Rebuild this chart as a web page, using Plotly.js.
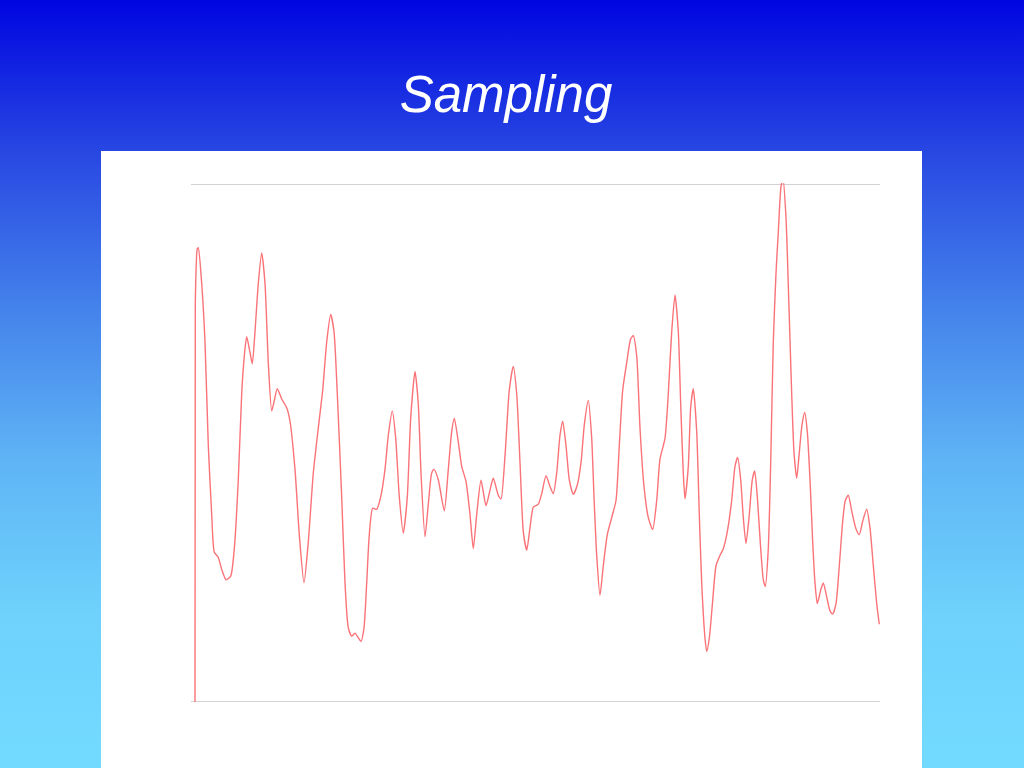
<!DOCTYPE html>
<html>
<head>
<meta charset="utf-8">
<script src="https://cdn.plot.ly/plotly-3.0.1.min.js"></script>
<style>
  html, body { margin: 0; padding: 0; }
  body {
    width: 1024px; height: 768px; overflow: hidden; position: relative;
    background: linear-gradient(to bottom,
      rgb(0,5,225) 0%,
      rgb(40,72,226) 20%,
      rgb(68,130,235) 40%,
      rgb(95,180,245) 60%,
      rgb(110,210,252) 80%,
      rgb(115,218,255) 100%);
  }
  #panel { position: absolute; left: 101px; top: 151px; width: 821px; height: 617px; background: #ffffff; }
  #chart { position: absolute; left: 0; top: 0; width: 1024px; height: 768px; }
</style>
</head>
<body>
<div id="panel"></div>
<div id="chart"></div>
<script>
// sample time (arbitrary units) and signal amplitude (0..100)
const sampleTime = [
  4.0, 4.3, 6.3, 7.3, 10.7, 14.0, 17.3, 20.7, 23.3, 27.3, 30.7, 35.0, 39.7, 43.3, 47.3, 50.7, 53.3, 55.7,
  59.0, 61.3, 64.0, 67.3, 70.7, 74.0, 77.3, 80.7, 83.3, 86.3, 90.7, 95.7, 99.0, 104.0, 108.3, 113.0,
  117.3, 122.3, 127.3, 131.7, 135.7, 139.7, 143.0, 146.3, 150.7, 154.0, 157.3, 160.7, 164.0, 170.0,
  173.0, 175.7, 178.3, 181.7, 185.7, 189.7, 194.0, 197.3, 201.3, 204.7, 208.3, 212.3, 216.3, 219.7,
  224.0, 227.3, 230.0, 234.0, 237.3, 240.7, 243.0, 247.3, 253.3, 257.3, 260.7, 263.3, 267.3, 270.7,
  275.0, 279.0, 282.3, 285.7, 290.0, 295.0, 299.0, 302.3, 307.3, 310.0, 314.0, 318.3, 322.3, 325.7,
  329.0, 332.3, 335.7, 339.0, 342.3, 347.3, 350.7, 355.0, 359.0, 362.3, 365.7, 369.0, 371.7, 375.0,
  378.3, 382.3, 386.3, 390.0, 393.3, 397.3, 400.7, 403.0, 405.7, 409.0, 412.3, 416.3, 420.7, 425.0,
  428.3, 431.7, 435.7, 439.7, 442.3, 445.7, 449.0, 453.0, 457.3, 461.7, 465.7, 469.0, 474.0, 477.3,
  480.7, 484.0, 487.3, 489.7, 492.3, 494.0, 497.3, 499.7, 502.3, 505.7, 508.3, 510.7, 514.0, 515.7,
  518.3, 521.7, 525.0, 529.0, 532.3, 536.3, 540.7, 544.0, 546.7, 549.7, 552.3, 555.0, 558.3, 561.3,
  563.7, 566.3, 569.7, 572.3, 574.3, 577.3, 579.7, 582.3, 585.0, 587.3, 590.0, 592.0, 595.0, 598.0,
  600.7, 603.0, 605.7, 608.3, 611.0, 613.7, 616.3, 619.0, 621.7, 624.0, 626.3, 629.7, 632.3, 635.7,
  639.0, 641.7, 645.0, 648.3, 651.7, 654.3, 657.3, 660.7, 664.7, 668.3, 671.7, 675.7, 679.0, 682.3,
  685.7, 688.3
];
const signal = [
  0.0, 77.0, 87.5, 87.7, 80.8, 69.5, 49.5, 36.2, 28.9, 27.9, 25.6, 23.6, 24.3, 29.6, 42.9, 59.5, 66.8, 70.5,
  67.5, 65.3, 71.5, 80.8, 86.7, 80.8, 65.5, 56.2, 58.2, 60.5, 58.5, 56.8, 54.2, 44.9, 32.3, 23.0,
  30.9, 44.2, 52.9, 60.2, 69.5, 74.8, 71.5, 59.5, 39.6, 23.0, 14.3, 12.7, 13.3, 11.7,
  14.3, 23.0, 32.3, 37.4, 37.2, 39.6, 44.9, 51.5, 56.2, 50.9, 39.6, 32.6, 39.6, 54.8,
  63.8, 57.5, 44.2, 31.9, 38.2, 44.2, 44.9, 42.9, 36.9, 44.9, 52.2, 54.8, 50.2, 45.5,
  42.6, 36.2, 29.6, 36.2, 42.8, 37.9, 40.9, 43.2, 39.9, 39.2, 47.5, 60.2, 64.8, 59.5,
  46.2, 32.9, 29.3, 33.6, 37.6, 38.2, 40.2, 43.7, 41.6, 40.2, 44.2, 51.5, 54.2, 49.5,
  42.9, 40.1, 41.9, 46.2, 53.5, 58.2, 50.9, 39.6, 28.3, 20.6, 26.3, 32.3, 35.6, 38.9,
  49.5, 60.2, 65.5, 70.1, 70.7, 66.8, 52.9, 41.6, 35.6, 33.3, 38.9, 46.9, 50.9, 59.5,
  71.5, 78.6, 71.5, 57.5, 44.2, 39.2, 45.5, 56.9, 60.5, 52.2, 36.2, 23.0, 12.3, 9.7,
  12.3, 19.6, 26.3, 28.3, 29.6, 32.9, 38.9, 45.5, 47.2, 42.9, 35.6, 30.6, 36.2, 42.9,
  44.6, 39.6, 29.6, 23.6, 22.3, 29.6, 46.2, 69.5, 82.8, 90.7, 99.5, 101.0, 93.5, 76.1,
  59.5, 48.2, 43.2, 48.2, 53.5, 55.9, 52.2, 42.9, 30.9, 23.0, 19.0, 21.6, 23.0, 20.3,
  17.6, 17.0, 19.0, 26.3, 34.9, 38.9, 39.9, 36.9, 33.6, 32.3, 34.9, 37.2, 33.6, 26.3,
  19.0, 15.0
];
const yTicks = [0, 100];
const titleText = 'Sampling';

const trace = {
  x: sampleTime,
  y: signal,
  type: 'scatter',
  mode: 'lines',
  line: { color: 'rgb(250,115,120)', width: 1.4, shape: 'spline', smoothing: 0.6 },
  hoverinfo: 'skip'
};

const layout = {
  width: 1024,
  height: 768,
  paper_bgcolor: 'rgba(0,0,0,0)',
  plot_bgcolor: 'rgba(0,0,0,0)',
  margin: { l: 191, r: 144, t: 183, b: 65 },
  showlegend: false,
  title: {
    text: titleText,
    font: { family: 'Liberation Sans, Arial, sans-serif', size: 51, color: '#ffffff', style: 'italic' },
    x: 506 / 1024,
    xref: 'container',
    xanchor: 'center',
    y: 1 - 94 / 768,
    yref: 'container',
    yanchor: 'middle'
  },
  xaxis: {
    range: [0, 689],
    showgrid: false,
    zeroline: false,
    showline: false,
    showticklabels: false,
    ticks: ''
  },
  yaxis: {
    range: [-0.2, 100.2],
    tickvals: yTicks,
    showgrid: true,
    gridcolor: '#d2d2d2',
    gridwidth: 1,
    zeroline: false,
    showline: false,
    showticklabels: false,
    ticks: ''
  }
};

Plotly.newPlot('chart', [trace], layout, { displayModeBar: false, staticPlot: true });
</script>
</body>
</html>
